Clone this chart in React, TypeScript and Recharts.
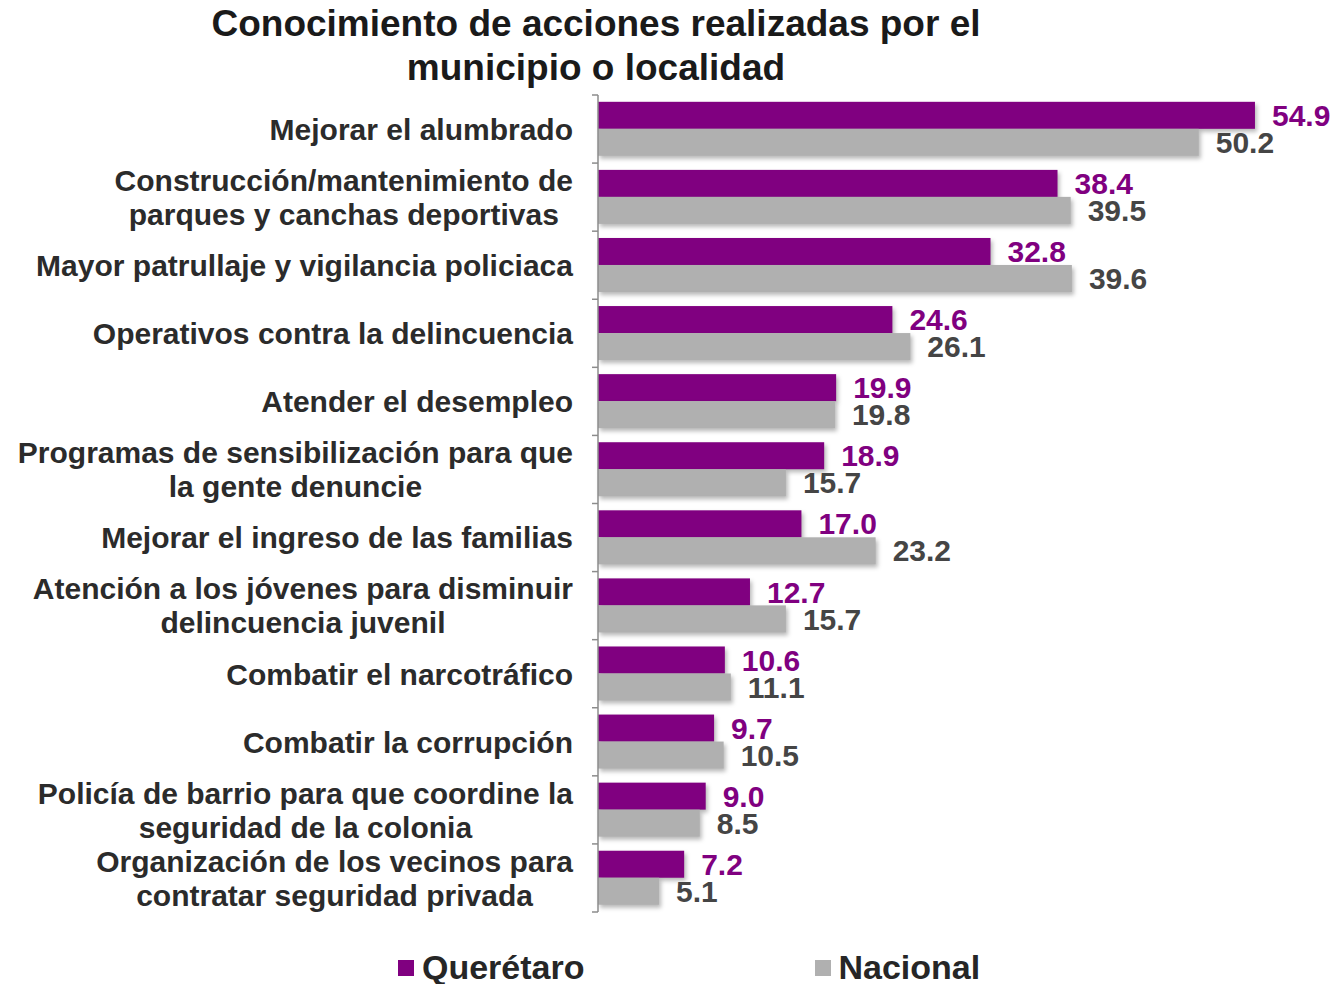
import React from 'react';
import { BarChart, Bar, XAxis, YAxis, LabelList, Legend } from 'recharts';

const categories: string[] = [
  'Mejorar el alumbrado',
  'Construcción/mantenimiento de\nparques y canchas deportivas',
  'Mayor patrullaje y vigilancia policiaca',
  'Operativos contra la delincuencia',
  'Atender el desempleo',
  'Programas de sensibilización para que\nla gente denuncie',
  'Mejorar el ingreso de las familias',
  'Atención a los jóvenes para disminuir\ndelincuencia juvenil',
  'Combatir el narcotráfico',
  'Combatir la corrupción',
  'Policía de barrio para que coordine la\nseguridad de la colonia',
  'Organización de los vecinos para\ncontratar seguridad privada',
];
const queretaro: number[] = [54.9, 38.4, 32.8, 24.6, 19.9, 18.9, 17.0, 12.7, 10.6, 9.7, 9.0, 7.2];
const nacional: number[] = [50.2, 39.5, 39.6, 26.1, 19.8, 15.7, 23.2, 15.7, 11.1, 10.5, 8.5, 5.1];
const seriesNames: string[] = ['Querétaro', 'Nacional'];
const titleLines: string[] = ['Conocimiento de acciones realizadas por el', 'municipio o localidad'];

const data = categories.map((c, i) => ({ name: c, q: queretaro[i], n: nacional[i] }));

const PURPLE = '#800080';
const GRAY = '#b0b0b0';
const FONT = '"Liberation Sans", Arial, sans-serif';

const W = 1335;
const H = 984;
const PLOT_TOP = 95;
const PLOT_BOTTOM = 912;
const AXIS_X = 598;
const BAND = (PLOT_BOTTOM - PLOT_TOP) / categories.length;
const LABEL_FONT = 30;
const LINE_H = 34;

let ctx: CanvasRenderingContext2D | null = null;
function measure(t: string): number {
  if (!ctx) {
    const c = document.createElement('canvas');
    ctx = c.getContext('2d');
  }
  if (!ctx) return t.length * LABEL_FONT * 0.55;
  ctx.font = `bold ${LABEL_FONT}px "Liberation Sans", Arial, sans-serif`;
  return ctx.measureText(t).width;
}

const CategoryTick = (props: any) => {
  const { x, y, payload, index } = props;
  const lines: string[] = String(payload.value).split('\n');
  const maxW = Math.max(...lines.map(measure));
  const cx = x - maxW / 2;
  const startY = y - ((lines.length - 1) * LINE_H) / 2;
  const axisX = x + 25;
  return (
    <g>
      <line x1={axisX - 6} x2={axisX} y1={y - BAND / 2} y2={y - BAND / 2} stroke="#8c8c8c" strokeWidth={1.5} />
      {index === categories.length - 1 && (
        <line x1={axisX - 6} x2={axisX} y1={y + BAND / 2} y2={y + BAND / 2} stroke="#8c8c8c" strokeWidth={1.5} />
      )}
      <text
        x={cx}
        y={startY}
        textAnchor="middle"
        fill="#2b2b2b"
        fontSize={LABEL_FONT}
        fontWeight="bold"
        fontFamily={FONT}
      >
        {lines.map((l, i) => (
          <tspan key={i} x={cx} y={startY + i * LINE_H} dy="0.36em">
            {l}
          </tspan>
        ))}
      </text>
    </g>
  );
};

const ShadowBar = (props: any) => {
  const { x, y, width, height, fill } = props;
  return (
    <rect
      x={x}
      y={y}
      width={width}
      height={height}
      fill={fill}
      style={{ filter: 'drop-shadow(2px 3px 2px rgba(0,0,0,0.28))' }}
    />
  );
};

const LegendContent = () => (
  <div
    style={{
      display: 'flex',
      alignItems: 'center',
      paddingLeft: 398,
      gap: 230,
      fontFamily: FONT,
      fontWeight: 'bold',
      fontSize: 34,
      color: '#262626',
      width: W,
      boxSizing: 'border-box',
    }}
  >
    {seriesNames.map((s, i) => (
      <div key={s} style={{ display: 'flex', alignItems: 'center' }}>
        <div style={{ width: 16, height: 16, background: i === 0 ? PURPLE : GRAY, marginRight: 8 }} />
        <span>{s}</span>
      </div>
    ))}
  </div>
);

export default function App() {
  return (
    <div style={{ position: 'absolute', left: 0, top: 0, width: W, height: H, background: '#fff' }}>
      <div
        style={{
          position: 'absolute',
          left: 0,
          top: 2,
          width: 1192,
          textAlign: 'center',
          fontFamily: FONT,
          fontWeight: 'bold',
          fontSize: 37,
          lineHeight: '44px',
          color: '#1a1a1a',
        }}
      >
        {titleLines.map((t) => (
          <div key={t}>{t}</div>
        ))}
      </div>
      <BarChart
        width={W}
        height={H}
        data={data}
        layout="vertical"
        margin={{ top: PLOT_TOP, right: 19, bottom: H - PLOT_BOTTOM, left: 0 }}
        barCategoryGap="10%"
        barGap={0}
      >
        <XAxis type="number" domain={[0, 60]} hide />
        <YAxis
          type="category"
          dataKey="name"
          width={AXIS_X}
          axisLine={{ stroke: '#8c8c8c', strokeWidth: 1.5 }}
          tickLine={false}
          tickSize={6}
          tickMargin={19}
          interval={0}
          tick={<CategoryTick />}
        />
        <Legend
          layout="horizontal"
          verticalAlign="middle"
          align="center"
          content={<LegendContent />}
          wrapperStyle={{ position: 'absolute', left: 0, top: 948, width: W }}
        />
        <Bar dataKey="q" name={seriesNames[0]} fill={PURPLE} isAnimationActive={false} shape={<ShadowBar />}>
          <LabelList
            dataKey="q"
            position="right"
            offset={17}
            formatter={(v: any) => Number(v).toFixed(1)}
            style={{ fill: PURPLE, fontSize: 30, fontWeight: 'bold', fontFamily: FONT }}
          />
        </Bar>
        <Bar dataKey="n" name={seriesNames[1]} fill={GRAY} isAnimationActive={false} shape={<ShadowBar />}>
          <LabelList
            dataKey="n"
            position="right"
            offset={17}
            formatter={(v: any) => Number(v).toFixed(1)}
            style={{ fill: '#454545', fontSize: 30, fontWeight: 'bold', fontFamily: FONT }}
          />
        </Bar>
      </BarChart>
    </div>
  );
}
